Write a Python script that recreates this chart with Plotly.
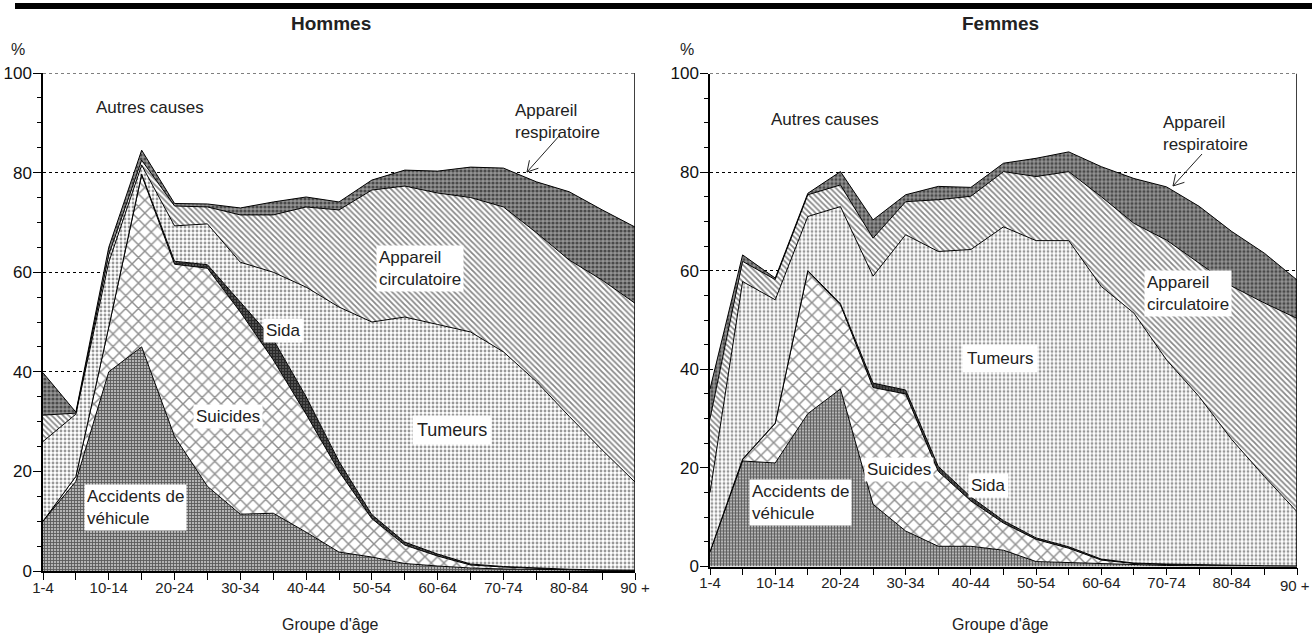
import math
import plotly.graph_objects as go

W, H = 1312, 636
FONT = "Liberation Sans, Arial, sans-serif"
NARROW = "Liberation Sans Narrow, Arial Narrow, Liberation Sans, sans-serif"
TXT = "#222222"

ages = ["1-4", "5-9", "10-14", "15-19", "20-24", "25-29", "30-34", "35-39", "40-44",
        "45-49", "50-54", "55-59", "60-64", "65-69", "70-74", "75-79", "80-84", "85-89", "90 +"]

# Hommes : part (%) de chaque cause de décès par groupe d'âge
h_accidents = [10, 18, 40, 45, 27, 17, 11.4, 11.6, 7.8, 3.8, 2.8, 1.5, 1.0, 0.6, 0.4, 0.3, 0.2, 0.1, 0.1]
h_suicides = [0, 1, 9, 34.5, 34.6, 43.8, 40.6, 30.8, 23.7, 16.2, 7.7, 3.7, 2.0, 0.6, 0.4, 0.2, 0.1, 0.1, 0.05]
h_sida = [0, 0, 0, 0.2, 0.6, 0.7, 2.0, 4.1, 3.5, 2.0, 0.8, 0.6, 0.4, 0.2, 0.1, 0.05, 0.05, 0.02, 0.02]
h_tumeurs = [16, 12.5, 13, 1.8, 7.1, 8.2, 8.0, 13.5, 22, 31, 38.7, 45.2, 46.1, 46.6, 43.1, 37.5, 30.7, 24.1, 17.7]
h_circulatoire = [5.3, 0.2, 1.5, 1.0, 4.0, 3.4, 9.5, 11.5, 16.1, 19.5, 26.5, 26.3, 26.4, 27, 29.1, 29.9, 31.4, 34.1, 35.9]
h_respiratoire = [8.5, 0.2, 1.5, 2.0, 0.5, 0.6, 1.4, 2.6, 2.0, 1.6, 2.0, 3.2, 4.4, 6.1, 7.8, 10.2, 13.7, 14.1, 15.3]

# Femmes
f_accidents = [3, 21.4, 21, 31, 36, 12.6, 7.2, 4.1, 4.1, 3.3, 1.0, 0.8, 0.5, 0.3, 0.2, 0.15, 0.1, 0.05, 0.05]
f_suicides = [0, 0.3, 8, 28.9, 17.1, 23.7, 27.8, 15.2, 9.2, 5.5, 4.5, 2.9, 0.8, 0.3, 0.2, 0.15, 0.1, 0.07, 0.05]
f_sida = [0, 0.1, 0.1, 0.1, 0.2, 0.9, 0.8, 1.0, 0.8, 0.5, 0.3, 0.3, 0.2, 0.1, 0.1, 0.05, 0.05, 0.03, 0.02]
f_tumeurs = [12, 36, 25, 11, 19.7, 21.7, 31.5, 43.6, 50.2, 59.6, 60.3, 62.1, 55.3, 50.7, 41.4, 34.1, 25.5, 18.1, 11.0]
f_circulatoire = [15, 4.1, 4.1, 4.4, 4.4, 7.7, 6.7, 10.5, 10.8, 11.2, 13, 14, 18.2, 18.2, 24.3, 27.1, 31.1, 35.2, 39.2]
f_respiratoire = [6, 1.3, 0.3, 0.3, 2.7, 3.7, 1.4, 2.7, 1.8, 1.7, 3.7, 4.0, 6.1, 9.1, 10.8, 11.5, 11.1, 10.1, 7.8]

y_ticks = [0, 20, 40, 60, 80, 100]

patterns = {
    "accidents": dict(shape="+", size=3, solidity=0.5, fgcolor="#000000", bgcolor="#b4b4b4"),
    "suicides": dict(shape="x", size=9, solidity=0.3, fgcolor="#222222", bgcolor="#ffffff"),
    "sida": dict(shape="+", size=3, solidity=0.6, fgcolor="#000000", bgcolor="#555555"),
    "tumeurs": dict(shape=".", size=4, solidity=0.4, fgcolor="#333333", bgcolor="#ffffff"),
    "circulatoire": dict(shape="\\", size=4, solidity=0.45, fgcolor="#111111", bgcolor="#ffffff"),
    "respiratoire": dict(shape=".", size=4, solidity=0.5, fgcolor="#000000", bgcolor="#959595"),
}

xs = list(range(len(ages)))
fig = go.Figure()


def add_panel(series, xa, ya, group):
    for name, vals in series:
        fig.add_trace(go.Scatter(
            x=xs, y=vals, name=name, mode="lines", stackgroup=group,
            line=dict(color="black", width=1), fillpattern=patterns[name],
            fillcolor="white", xaxis=xa, yaxis=ya, showlegend=False, hoverinfo="skip"))


add_panel([("accidents", h_accidents), ("suicides", h_suicides), ("sida", h_sida),
           ("tumeurs", h_tumeurs), ("circulatoire", h_circulatoire),
           ("respiratoire", h_respiratoire)], "x", "y", "h")
add_panel([("accidents", f_accidents), ("suicides", f_suicides), ("sida", f_sida),
           ("tumeurs", f_tumeurs), ("circulatoire", f_circulatoire),
           ("respiratoire", f_respiratoire)], "x2", "y2", "f")

ticktext = [a if i % 2 == 0 else "" for i, a in enumerate(ages)]
# the last label of the right panel touches the page edge; it is drawn as an annotation
ticktext_f = ticktext[:-1] + [""]


def xaxis(dom, anchor, labels):
    return dict(domain=dom, range=[0, 18], tickmode="array", tickvals=xs, ticktext=labels,
                ticks="outside", ticklen=7, tickwidth=1, tickcolor="black", showline=True,
                linecolor="black", linewidth=1.5, showgrid=False, zeroline=False,
                tickfont=dict(family=FONT, size=15, color=TXT), anchor=anchor,
                ticklabelstandoff=-5, automargin=False, fixedrange=True)


def yaxis(dom, anchor):
    return dict(domain=dom, range=[0, 100], tickmode="array", tickvals=y_ticks,
                ticks="outside", ticklen=8, tickwidth=1, tickcolor="black", showline=True,
                linecolor="black", linewidth=1.5, showgrid=True, gridcolor="black",
                griddash="dot", gridwidth=1, zeroline=False,
                tickfont=dict(family=NARROW, size=17, color="#111"), anchor=anchor,
                minor=dict(tickvals=[v for v in range(5, 100, 5) if v % 20], ticks="outside",
                           ticklen=4, tickcolor="black", showgrid=False),
                ticklabelstandoff=-2, automargin=False, fixedrange=True)


def px2paper(px, py):
    return px / W, 1 - py / H


hx = [43 / W, 635 / W]
hy = [(H - 571) / H, (H - 73) / H]
fx = [710 / W, 1297 / W]
fy = [(H - 566.5) / H, (H - 73.5) / H]

annotations = []


def ann(text, px, py, xanchor="center", bg=None, size=17, bold=False, pad=2, family=FONT):
    x, y = px2paper(px, py)
    annotations.append(dict(
        text=("<b>%s</b>" % text) if bold else text, x=x, y=y, xref="paper", yref="paper",
        xanchor=xanchor, yanchor="middle", showarrow=False, align="left",
        font=dict(family=family, size=size, color=TXT),
        bgcolor=bg if bg else "rgba(0,0,0,0)", borderpad=pad))


# titres et axes
ann("Hommes", 331, 24, bold=True, size=19, family=NARROW)
ann("Femmes", 1000, 24, bold=True, size=19, family=NARROW)
ann("%", 18, 49, size=16)
ann("%", 687, 49, size=16)
ann("Groupe d'âge", 331, 624, size=16)
ann("Groupe d'âge", 1000, 624, size=16)
ann(ages[-1], 1311, 585, xanchor="right", size=15, pad=0)

# étiquettes Hommes
ann("Autres causes", 150, 108)
ann("Appareil<br>respiratoire", 512, 121, xanchor="left")
ann("Appareil<br>circulatoire", 376, 268, xanchor="left", bg="white")
ann("Sida", 283, 330, bg="white")
ann("Suicides", 228, 416, bg="white")
ann("Tumeurs", 452, 430, bg="white", pad=4, family=NARROW, size=18)
ann("Accidents de<br>véhicule", 84, 507, xanchor="left", bg="white")

# étiquettes Femmes
ann("Autres causes", 825, 120)
ann("Appareil<br>respiratoire", 1160, 133, xanchor="left")
ann("Appareil<br>circulatoire", 1144, 293, xanchor="left", bg="white")
ann("Tumeurs", 1000, 358, bg="white", pad=4)
ann("Suicides", 899, 469, bg="white")
ann("Sida", 988, 485, bg="white")
ann("Accidents de<br>véhicule", 749, 502, xanchor="left", bg="white")

shapes = []
# barre noire en haut
x0, y0 = px2paper(15, 9)
x1, y1 = px2paper(W, 3)
shapes.append(dict(type="rect", xref="paper", yref="paper", x0=x0, x1=1, y0=y0, y1=y1,
                   fillcolor="black", line=dict(width=0)))
# cadre droit et ligne du haut
for xa, ya in (("x", "y"), ("x2", "y2")):
    shapes.append(dict(type="line", xref=xa, yref=ya, x0=18, x1=18, y0=0, y1=100,
                       line=dict(color="black", width=1.5)))
    shapes.append(dict(type="line", xref=xa, yref=ya, x0=0, x1=18, y0=100, y1=100,
                       line=dict(color="black", width=1, dash="dot")))


def arrow(tail, tip):
    tx, ty = tip
    sx, sy = tail
    dx, dy = sx - tx, sy - ty
    n = math.hypot(dx, dy)
    dx, dy = dx / n, dy / n
    pts = []
    for ang in (math.radians(30), -math.radians(30)):
        rx = dx * math.cos(ang) - dy * math.sin(ang)
        ry = dx * math.sin(ang) + dy * math.cos(ang)
        pts.append((tx + 12 * rx, ty + 12 * ry))

    def P(p):
        a, b = px2paper(*p)
        return "%.5f %.5f" % (a, b)

    path = "M %s L %s M %s L %s L %s" % (P(tail), P(tip), P(pts[0]), P(tip), P(pts[1]))
    shapes.append(dict(type="path", xref="paper", yref="paper", path=path,
                       line=dict(color="#222", width=1)))


arrow((560, 135), (527, 172))
arrow((1202, 154), (1173, 186))

fig.update_layout(
    width=W, height=H, autosize=False,
    margin=dict(l=0, r=0, t=0, b=0, pad=0),
    paper_bgcolor="white", plot_bgcolor="white",
    xaxis=xaxis(hx, "y", ticktext), yaxis=yaxis(hy, "x"),
    xaxis2=xaxis(fx, "y2", ticktext_f), yaxis2=yaxis(fy, "x2"),
    annotations=annotations, shapes=shapes,
    showlegend=False,
)

fig.write_html(
    "out.html",
    config={"displayModeBar": False},
    post_script="document.body.style.margin='0px';document.body.style.overflow='hidden';",
)
